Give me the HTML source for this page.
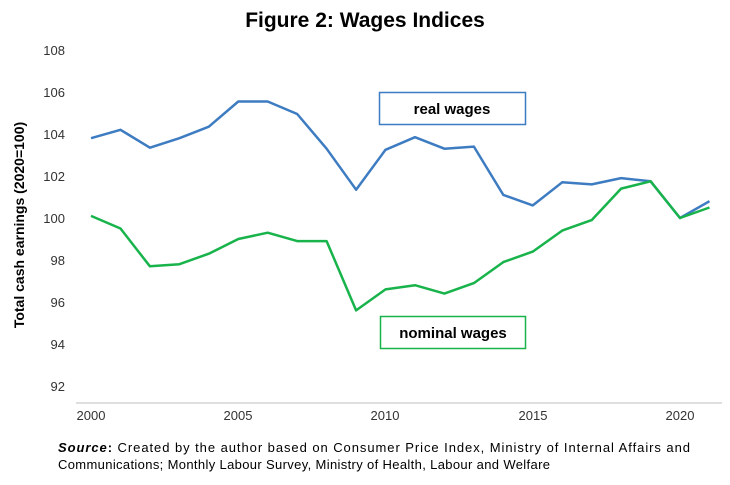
<!DOCTYPE html>
<html><head><meta charset="utf-8"><style>
body{margin:0;background:#fff;width:730px;height:480px;overflow:hidden;font-family:"Liberation Sans",sans-serif}
</style></head><body>
<svg width="730" height="480" xmlns="http://www.w3.org/2000/svg" font-family="Liberation Sans, sans-serif">
<text x="365" y="27" text-anchor="middle" font-size="21" font-weight="bold" fill="#000">Figure 2: Wages Indices</text>
<g font-size="13" fill="#333" text-anchor="end">
<text x="65" y="55">108</text><text x="65" y="97">106</text><text x="65" y="139">104</text><text x="65" y="181">102</text>
<text x="65" y="223">100</text><text x="65" y="265">98</text><text x="65" y="307">96</text><text x="65" y="349">94</text><text x="65" y="391">92</text>
</g>
<line x1="76" y1="403" x2="722" y2="403" stroke="#bfbfbf" stroke-width="1"/>
<g font-size="13" fill="#333" text-anchor="middle">
<text x="91" y="420">2000</text><text x="238" y="420">2005</text><text x="385" y="420">2010</text><text x="533" y="420">2015</text><text x="680" y="420">2020</text>
</g>
<text transform="translate(24,225) rotate(-90)" text-anchor="middle" font-size="14" font-weight="bold" fill="#000">Total cash earnings (2020=100)</text>
<polyline fill="none" stroke="#3e7cc2" stroke-width="2.5" stroke-linejoin="round" points="91,138.2 120.5,129.8 149.9,147.7 179.4,138.2 208.8,126.7 238.3,101.5 267.7,101.5 297.2,114 326.6,148.7 356.1,189.7 385.5,149.8 415,137.2 444.4,148.7 473.9,146.6 503.3,194.9 532.8,205.4 562.2,182.3 591.7,184.4 621.1,178.1 650.6,181.3 680,218 709.5,201.2"/>
<polyline fill="none" stroke="#18b34b" stroke-width="2.5" stroke-linejoin="round" points="91,215.9 120.5,228.5 149.9,266.3 179.4,264.2 208.8,253.7 238.3,239 267.7,232.7 297.2,241.1 326.6,241.1 356.1,310.4 385.5,289.4 415,285.2 444.4,293.6 473.9,283.1 503.3,262.1 532.8,251.6 562.2,230.6 591.7,220.1 621.1,188.6 650.6,181.3 680,218 709.5,207.5"/>
<rect x="379.5" y="92.5" width="146" height="32" fill="#fff" stroke="#3e7cc2" stroke-width="1.5"/>
<text x="452" y="114" text-anchor="middle" font-size="15" font-weight="bold">real wages</text>
<rect x="380.5" y="316.5" width="145" height="32" fill="#fff" stroke="#18b34b" stroke-width="1.5"/>
<text x="453" y="338" text-anchor="middle" font-size="15" font-weight="bold">nominal wages</text>
<text x="58" y="452" font-size="13" fill="#000" textLength="632" lengthAdjust="spacing"><tspan font-weight="bold" font-style="italic">Source</tspan><tspan font-weight="bold">:</tspan> Created by the author based on Consumer Price Index, Ministry of Internal Affairs and</text>
<text x="58" y="469" font-size="13" fill="#000" textLength="492" lengthAdjust="spacing">Communications; Monthly Labour Survey, Ministry of Health, Labour and Welfare</text>
</svg>
</body></html>
